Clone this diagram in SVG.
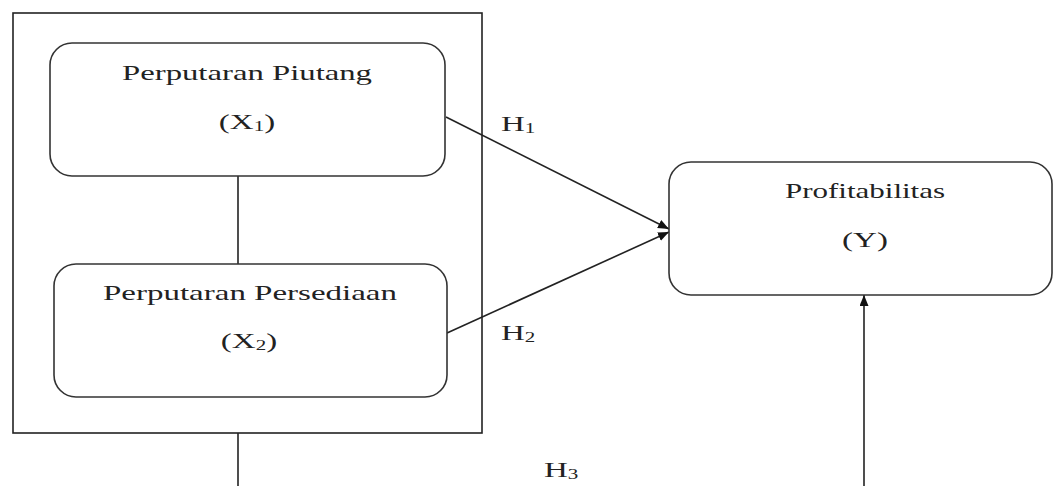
<svg xmlns="http://www.w3.org/2000/svg" width="1054" height="486" viewBox="0 0 1054 486">
<style>
.box{fill:#fff;stroke:#333;stroke-width:1.6}
.frame{fill:none;stroke:#222;stroke-width:1.6}
.ln{fill:none;stroke:#222;stroke-width:1.6}
text{font-family:"Liberation Serif","Times New Roman",serif;font-size:22px;fill:#222}
.sub{font-size:14px}
</style>
<defs>
<marker id="ah" markerUnits="userSpaceOnUse" markerWidth="12" markerHeight="10" refX="11" refY="4.5" orient="auto">
<path d="M0,0 L11,4.5 L0,9 z" fill="#111"/>
</marker>
</defs>
<rect width="1054" height="486" fill="#fff"/>
<g id="frame">
<rect class="frame" x="13" y="13" width="469" height="420"/>
</g>
<g id="connectors">
<path class="ln" d="M238,176 L238,264"/>
<path class="ln" d="M238,433 L238,486"/>
<path class="ln" d="M446,117 L669,229" marker-end="url(#ah)"/>
<path class="ln" d="M447,333 L669,232" marker-end="url(#ah)"/>
<path class="ln" d="M864,486 L864,295" marker-end="url(#ah)"/>
</g>
<g id="node-x1">
<rect class="box" x="50" y="43" width="395" height="133" rx="22"/>
<text x="247" y="80" text-anchor="middle" textLength="250" lengthAdjust="spacingAndGlyphs">Perputaran Piutang</text>
<text transform="translate(247,129) scale(1.5,1)" text-anchor="middle">(X<tspan class="sub" dy="2">1</tspan><tspan dy="-2">)</tspan></text>
</g>
<g id="node-x2">
<rect class="box" x="54" y="264" width="393" height="133" rx="22"/>
<text x="250" y="300" text-anchor="middle" textLength="294" lengthAdjust="spacingAndGlyphs">Perputaran Persediaan</text>
<text transform="translate(249,348) scale(1.5,1)" text-anchor="middle">(X<tspan class="sub" dy="2">2</tspan><tspan dy="-2">)</tspan></text>
</g>
<g id="node-y">
<rect class="box" x="669" y="162" width="383" height="133" rx="22"/>
<text x="865" y="198" text-anchor="middle" textLength="160" lengthAdjust="spacingAndGlyphs">Profitabilitas</text>
<text transform="translate(865,247) scale(1.5,1)" text-anchor="middle">(Y)</text>
</g>
<g id="labels">
<text transform="translate(501,131) scale(1.5,1)">H<tspan class="sub" dy="2">1</tspan></text>
<text transform="translate(501,340) scale(1.5,1)">H<tspan class="sub" dy="2">2</tspan></text>
<text transform="translate(544,477) scale(1.5,1)">H<tspan class="sub" dy="2">3</tspan></text>
</g>
</svg>
